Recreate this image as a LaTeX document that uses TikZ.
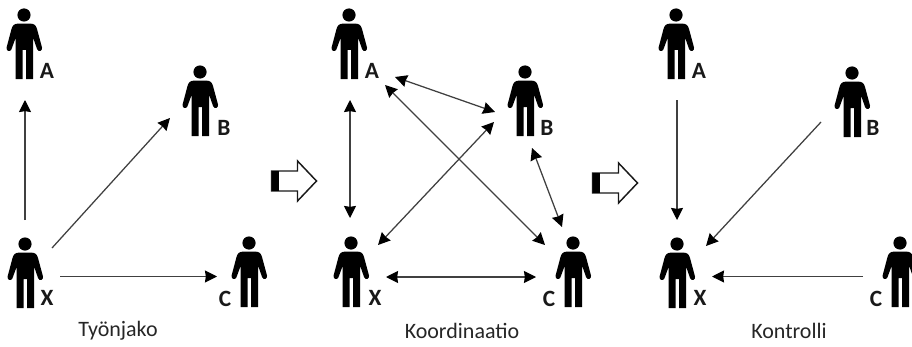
\documentclass[tikz,border=0pt]{standalone}
\usepackage{fontspec}
\setmainfont{Carlito}
\usetikzlibrary{arrows.meta}
\tikzset{
  x=0.75pt,y=-0.75pt,
  ink/.style={fill=black,draw=none},
  conn/.style={draw=black!75,line width=0.95pt,-{Stealth[length=9pt,width=9pt,inset=0.6pt,color=black]}},
  biconn/.style={draw=black!75,line width=0.95pt,{Stealth[length=9pt,width=9pt,inset=0.6pt,color=black]}-{Stealth[length=9pt,width=9pt,inset=0.6pt,color=black]}},
  caption/.style={font=\fontsize{16.5pt}{18pt}\selectfont,text=black!85,inner sep=0pt},
  tag/.style={font=\bfseries\fontsize{17.5pt}{18pt}\selectfont,text=black!90,inner sep=0pt},
  person/.pic={
    \fill[ink] (0,0) circle[radius=6.6];
    \fill[ink]
      (-6,8.6) -- (6.5,8.6) .. controls (10.5,8.8) and (12,10.5) .. (13,14)
      -- (18,32.5) .. controls (18.6,36.2) and (14.6,37.4) .. (13.2,34.4)
      -- (9.2,23) -- (9.2,64) -- (2,64) -- (2,35) -- (-1.4,35) -- (-1.4,64) -- (-8.4,64)
      -- (-8.4,23) -- (-12.6,34.4) .. controls (-14,37.4) and (-18,36.2) .. (-17.4,32.5)
      -- (-12.5,14) .. controls (-11.5,10.5) and (-10,8.8) .. (-6,8.6) -- cycle;
  },
  hollow/.pic={
    \draw[black!90,line width=1.1pt,line join=miter,fill=white]
      (0,-10) -- (26,-10) -- (26,-20) -- (45,0) -- (26,20) -- (26,10) -- (0,10) -- cycle;
    \fill[black] (0,-10) rectangle (7,10);
  }
}
\begin{document}
\begin{tikzpicture}
\useasboundingbox (0,0) rectangle (912,346);
% persons
\pic at (24,15) {person};
\pic at (200,72) {person};
\pic at (25,244) {person};
\pic at (249,243) {person};
\pic at (349,15) {person};
\pic at (525,72) {person};
\pic at (351,243) {person};
\pic at (573,243) {person};
\pic at (676,15) {person};
\pic at (852,73) {person};
\pic at (677,244) {person};
\pic at (900,243) {person};
% letters
\node[tag] (la1) at (47,71) {A};
\node[tag] (lb1) at (224,128) {B};
\node[tag] (lx1) at (47,298) {X};
\node[tag] (lc1) at (225,299) {C};
\node[tag] (la2) at (372,71) {A};
\node[tag] (lb2) at (547,128) {B};
\node[tag] (lx2) at (375,298) {X};
\node[tag] (lc2) at (549,299) {C};
\node[tag] (la3) at (699,71) {A};
\node[tag] (lb3) at (873,128) {B};
\node[tag] (lx3) at (700,298) {X};
\node[tag] (lc3) at (876,299) {C};
% captions
\node[caption] (cap1) at (118,331) {Työnjako};
\node[caption] (cap2) at (462,331) {Koordinaatio};
\node[caption] (cap3) at (789,331) {Kontrolli};
% hollow arrows
\pic at (271.5,181) {hollow};
\pic at (592.5,183) {hollow};
% endpoints
\coordinate (a1) at (25,100); \coordinate (x1a) at (25,220);
\coordinate (x1b) at (52,248); \coordinate (b1) at (170,118);
\coordinate (x1c) at (60,276.5); \coordinate (c1) at (217,276.5);
\coordinate (a2x) at (350,100); \coordinate (x2a) at (350,218);
\coordinate (a2b) at (395,77); \coordinate (b2a) at (495,112);
\coordinate (a2c) at (385,85); \coordinate (c2a) at (545,245);
\coordinate (x2b) at (378,245); \coordinate (b2x) at (494,122);
\coordinate (b2c) at (532,148); \coordinate (c2b) at (562,227);
\coordinate (x2c) at (386,277); \coordinate (c2x) at (536,277);
\coordinate (a3) at (677,100); \coordinate (x3a) at (677,220);
\coordinate (b3) at (821,122); \coordinate (x3b) at (706,246);
\coordinate (c3) at (863,276.5); \coordinate (x3c) at (712,276.5);
% connectors
\draw[conn] (x1a) -- (a1);
\draw[conn] (x1b) -- (b1);
\draw[conn] (x1c) -- (c1);
\draw[biconn] (a2x) -- (x2a);
\draw[biconn] (a2b) -- (b2a);
\draw[biconn] (a2c) -- (c2a);
\draw[biconn] (x2b) -- (b2x);
\draw[biconn] (b2c) -- (c2b);
\draw[biconn] (x2c) -- (c2x);
\draw[conn] (a3) -- (x3a);
\draw[conn] (b3) -- (x3b);
\draw[conn] (c3) -- (x3c);
\end{tikzpicture}
\end{document}
